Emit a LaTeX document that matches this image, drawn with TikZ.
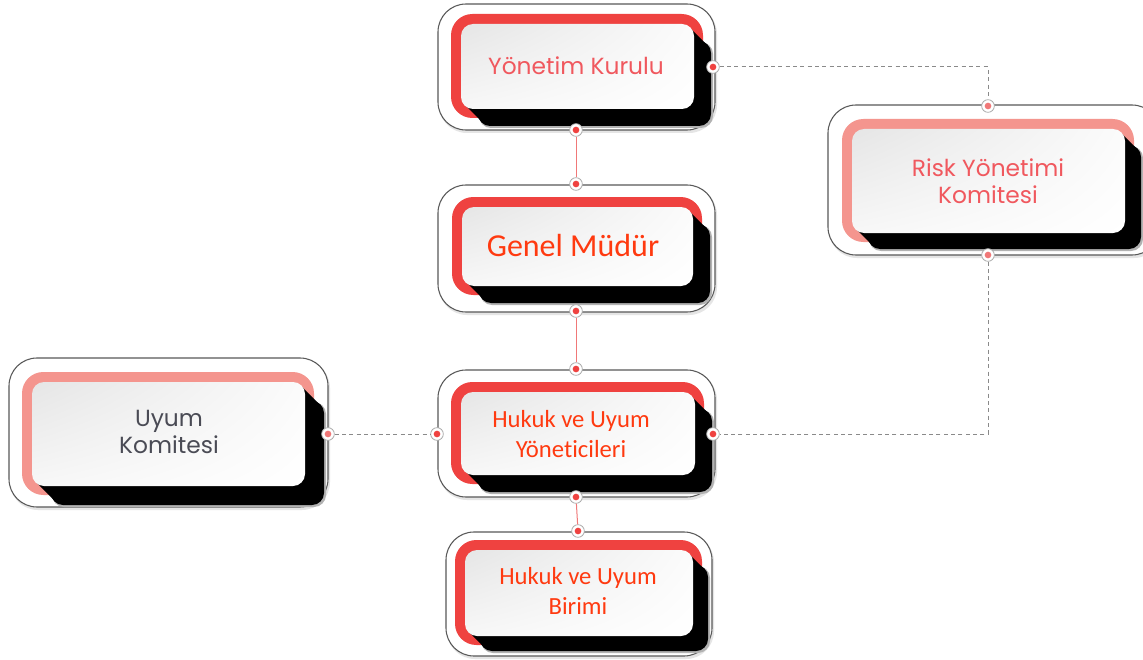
\documentclass[tikz,border=0pt]{standalone}
\usepackage{fontspec}
\usetikzlibrary{shadings}
\newfontfamily\montf{Poppins}
\newfontfamily\calf[Ligatures=NoCommon]{Carlito}
\definecolor{bandred}{HTML}{EF4240}
\definecolor{bandpink}{HTML}{F4958E}
\definecolor{txtpink}{HTML}{F0585E}
\definecolor{txtred}{HTML}{FF3A10}
\definecolor{txtgrey}{HTML}{4A4B55}
\definecolor{lineg}{HTML}{8A8A8A}
\definecolor{linered}{HTML}{F07878}
\tikzset{
  outline/.style={draw=gray!70!black, line width=0.8pt, fill=white, rounded corners=21pt},
  dotred/.style={circle, draw=gray!65, line width=0.6pt, fill=white, minimum size=9.5pt, inner sep=0pt,
    path picture={\fill[bandred] (path picture bounding box.center) circle (2.5pt);}},
  dotpink/.style={dotred, path picture={\fill[linered] (path picture bounding box.center) circle (2.5pt);}},
  dashline/.style={draw=lineg, line width=0.75pt, dash pattern=on 3pt off 2.5pt},
  solidline/.style={draw=linered, line width=0.75pt},
  txt/.style={align=center, inner sep=0pt},
}
% #1..#4 outer box, #5..#8 inner box, #9 band colour
\newcommand\obox[9]{%
  \fill[gray!20, rounded corners=21pt] (#1+1,#2+2) rectangle (#3+2,#4+3);
  \path[outline] (#1,#2) rectangle (#3,#4);
  \fill[#9, rounded corners=16pt] (#5-10,#6-10) rectangle (#7+9,#8+9);
  \fill[gray!60, rounded corners=9pt] (#5+\sd+1,#6+\sd+1) rectangle (#7+\sd+2,#8+\sd+2);
  \fill[black] (#5+4,#8-4) -- (#5+4+\sd,#8-4+\sd) -- (#7-4+\sd,#6+4+\sd) -- (#7-4,#6+4) -- cycle;
  \fill[black, rounded corners=9pt] (#5+\sd,#6+\sd) rectangle (#7+\sd,#8+\sd);
  \shade[rounded corners=9pt, upper left=gray!20, lower right=white, upper right=white!97!gray, lower left=white!94!gray]
    (#5,#6) rectangle (#7,#8);
}
\begin{document}
\begin{tikzpicture}[x=0.75pt, y=-0.75pt]
\clip (0,0) rectangle (1143,660);
\fill[white] (0,0) rectangle (1143,660);
\def\sd{17}
% boxes
\obox{438}{4}{715}{130}{461}{24}{694}{109}{bandred}
\obox{438}{185}{715}{312}{462}{207}{693}{286}{bandred}
\obox{438}{370}{715}{497}{461}{392}{695}{475}{bandred}
\def\sd{15}
\obox{446}{532}{712}{656}{465}{550}{693}{636}{bandred}
\def\sd{16}
\obox{828}{105}{1160}{255}{852}{129}{1125}{233}{bandpink}
\def\sd{19}
\obox{9}{358}{328}{507}{32}{382}{305}{486}{bandpink}
% texts
\node[txt, font=\montf\fontsize{17.5}{20}\selectfont, text=txtpink] (yk) at (576,66) {Yönetim Kurulu};
\node[txt, font=\calf\fontsize{24}{28}\selectfont, text=txtred] (gm) at (573,246) {Genel Müdür};
\node[txt, font=\calf\fontsize{18.5}{23}\selectfont, text=txtred] (huy) at (571,434) {Hukuk ve Uyum\\Yöneticileri};
\node[txt, font=\calf\fontsize{18.5}{23}\selectfont, text=txtred] (hub) at (578,591) {Hukuk ve Uyum\\Birimi};
\node[txt, font=\montf\fontsize{17.5}{20.5}\selectfont, text=txtpink] (rk) at (988,181) {Risk Yönetimi\\Komitesi};
\node[txt, font=\montf\fontsize{17.5}{20.5}\selectfont, text=txtgrey] (uk) at (169,432) {Uyum\\Komitesi};
% connection dots
\node[dotred] (ykR) at (713,67) {};
\node[dotred] (ykB) at (576,130) {};
\node[dotred] (gmT) at (576,184) {};
\node[dotred] (gmB) at (576,311) {};
\node[dotred] (huT) at (576,369) {};
\node[dotred] (huL) at (437,434) {};
\node[dotred] (huR) at (713,434) {};
\node[dotred] (huB) at (576,497) {};
\node[dotred] (hbT) at (578,531) {};
\node[dotpink] (rkT) at (988,106) {};
\node[dotpink] (rkB) at (988,255) {};
\node[dotpink] (ukR) at (328,434) {};
% connectors
\draw[solidline] (ykB) -- (gmT);
\draw[solidline] (gmB) -- (huT);
\draw[solidline] (huB) -- (hbT);
\draw[dashline] (ykR) -| (rkT);
\draw[dashline] (rkB) |- (huR);
\draw[dashline] (ukR) -- (huL);
\end{tikzpicture}
\end{document}
